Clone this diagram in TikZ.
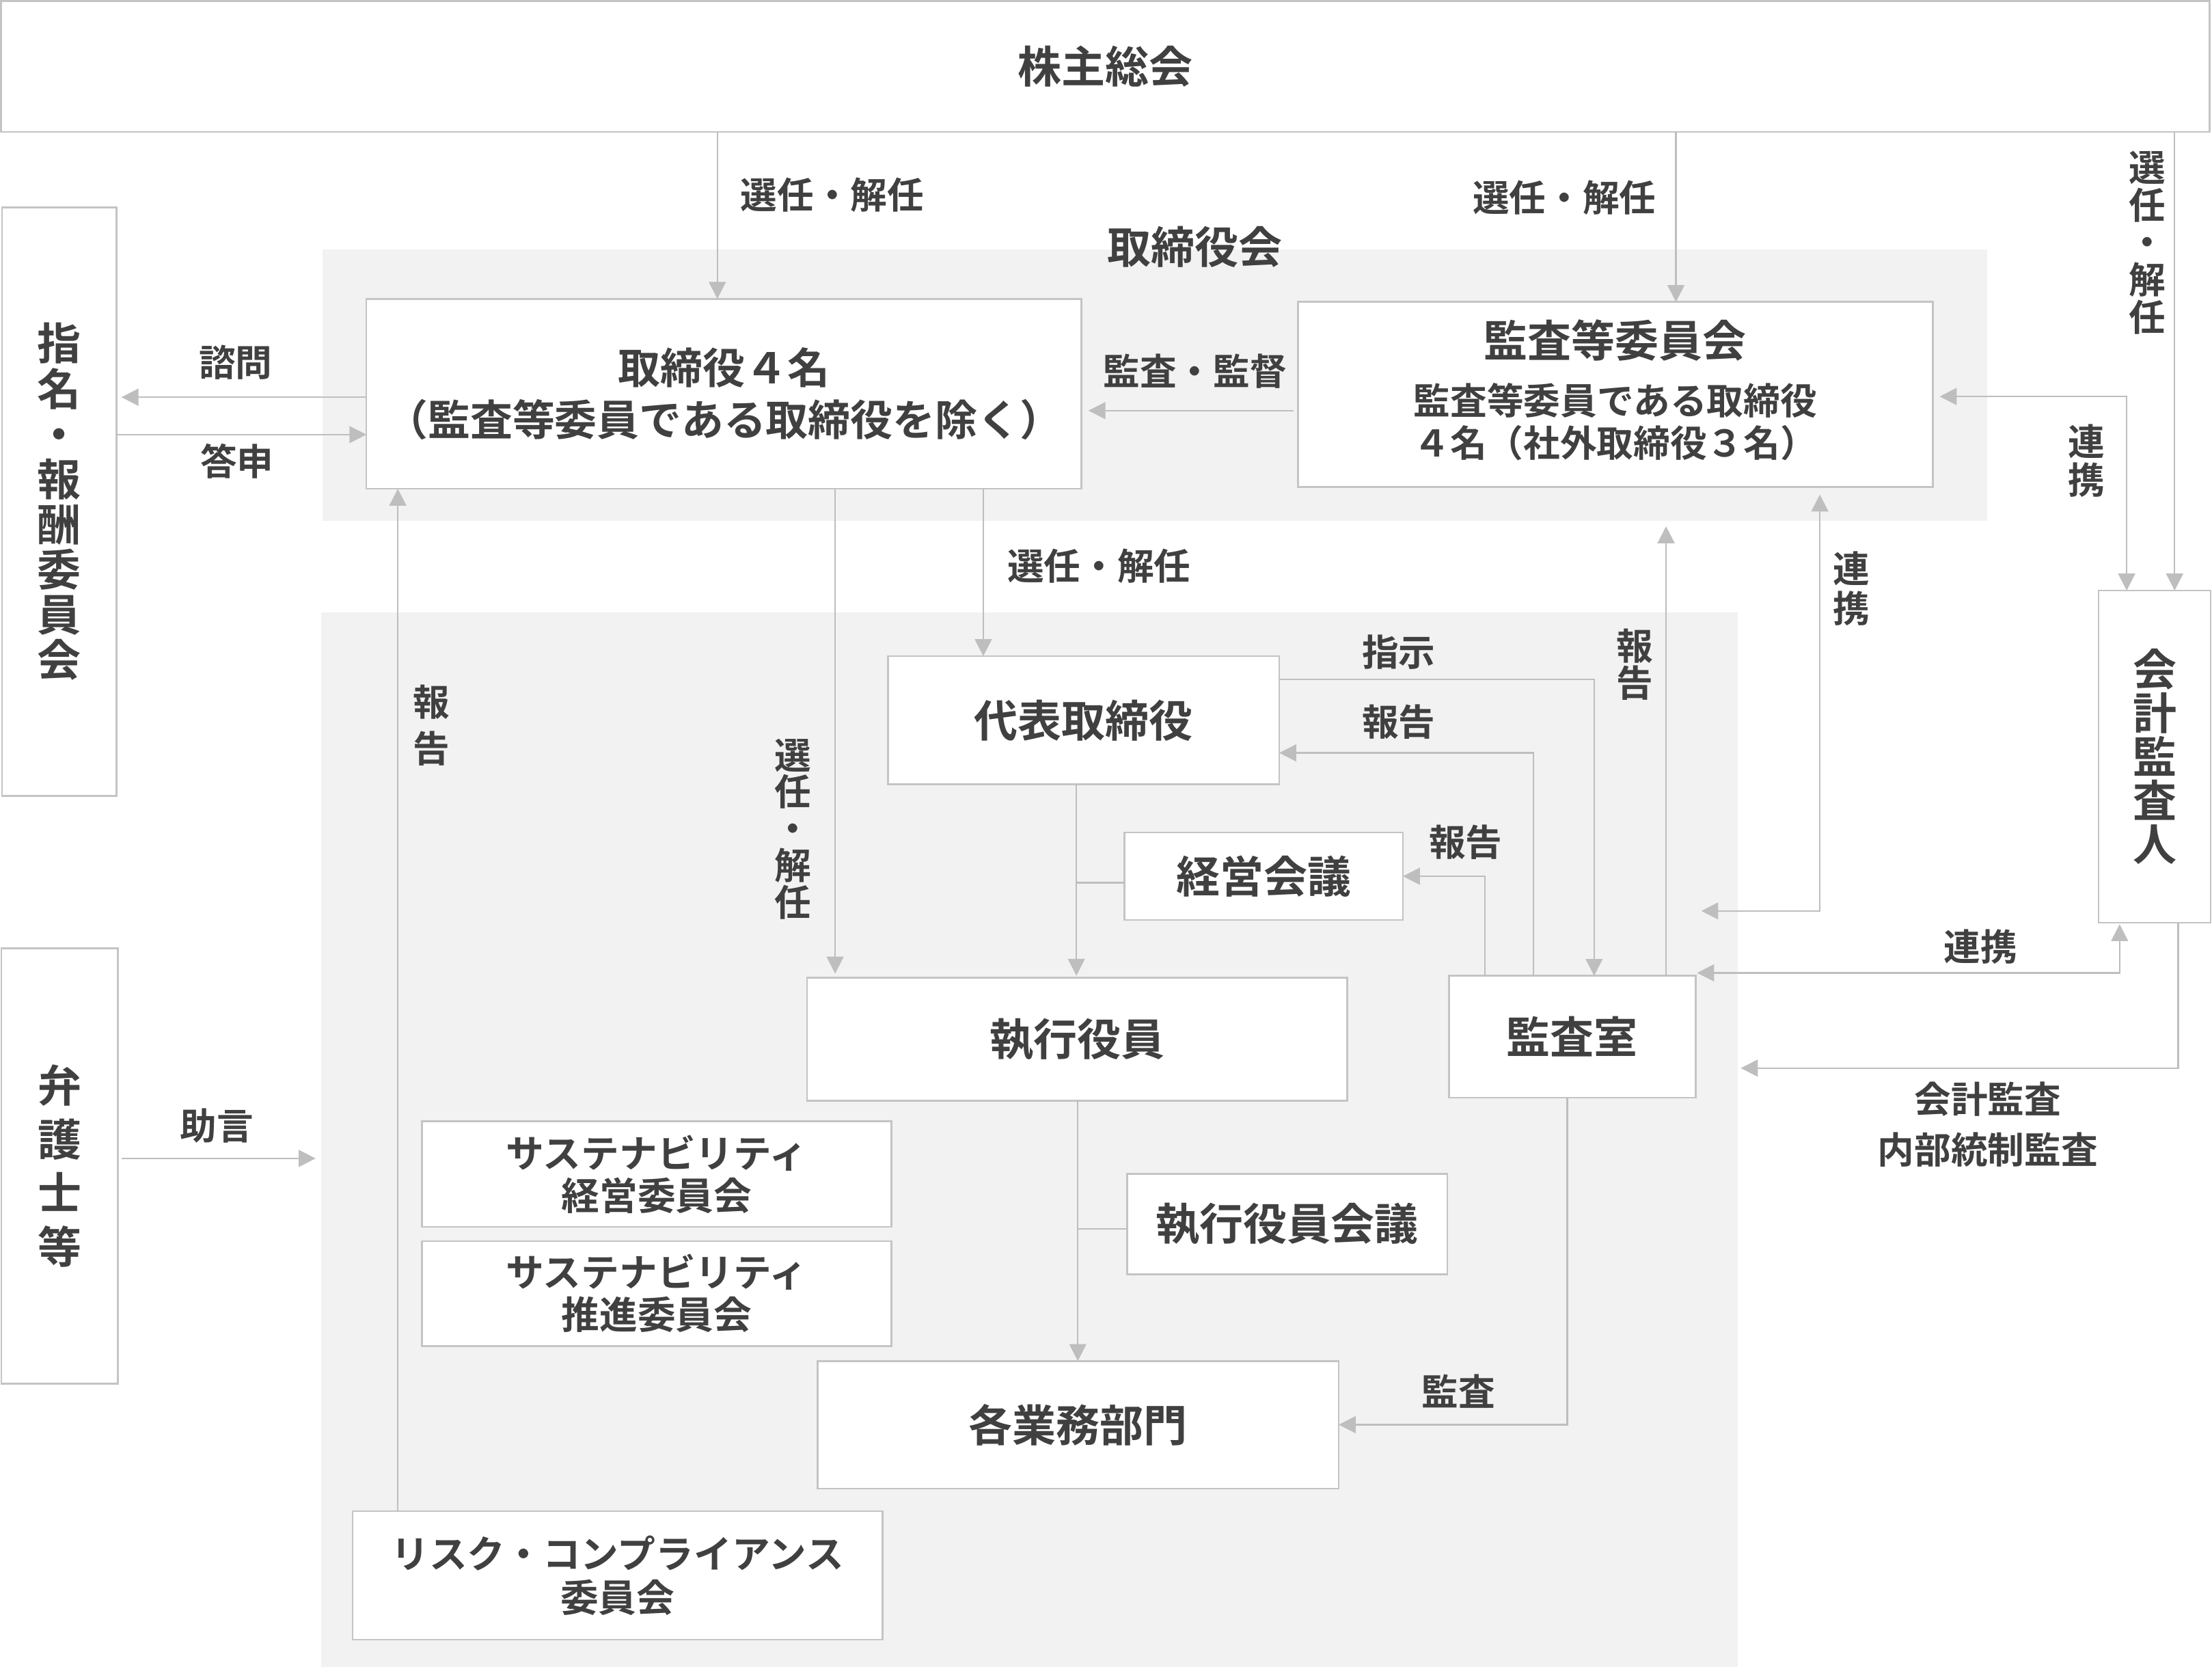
\documentclass[tikz,border=0pt]{standalone}
\usepackage{fontspec}
\setmainfont{Noto Sans CJK JP}[BoldFont={Noto Sans CJK JP Bold}]
\usetikzlibrary{arrows.meta}
\definecolor{lnc}{RGB}{190,190,190}
\definecolor{bdc}{RGB}{196,196,196}
\definecolor{bgc}{RGB}{242,242,242}
\definecolor{txc}{RGB}{64,64,64}
\begin{document}
\begin{tikzpicture}[x=1pt,y=-1pt,
  box/.style={draw=bdc, line width=1.3pt, fill=white, text=txc, inner sep=0pt, outer sep=0pt, align=center, anchor=north west},
  bgbox/.style={fill=bgc, draw=none, inner sep=0pt, outer sep=0pt, anchor=north west},
  big/.style={font=\bfseries\fontsize{31}{37}\selectfont},
  mid/.style={font=\bfseries\fontsize{27}{31}\selectfont},
  lab/.style={text=txc, inner sep=0pt, align=center, font=\bfseries\fontsize{26}{30}\selectfont},
  vlab/.style={text=txc, inner sep=0pt, align=center, font=\bfseries\fontsize{26}{#1}\selectfont},
  con/.style={draw=lnc, line width=1.1pt},
  arr/.style={con, -{Triangle[length=12pt,width=12pt]}},
  arrb/.style={con, {Triangle[length=12pt,width=12pt]}-{Triangle[length=12pt,width=12pt]}},
]
\fill[white] (0,0) rectangle (1568,1181.4);
\useasboundingbox (0,0) rectangle (1568,1181.4);

% backgrounds
\node[bgbox, minimum width=1180pt, minimum height=192pt] (bgA) at (228.7,177) {};
\node[bgbox, minimum width=1004.3pt, minimum height=747.4pt] (bgB) at (227.7,434) {};
\node[lab, font=\bfseries\fontsize{31}{36}\selectfont] (bgAlab) at (847,175) {取締役会};

% boxes
\node[box, big, minimum width=1565.5pt, minimum height=92.8pt] (kabu) at (0.7,0.7) {株主総会};
\node[box, font=\bfseries\fontsize{31}{32}\selectfont, minimum width=81.1pt, minimum height=417pt] (shimei) at (1.5,147) {指\\名\\・\\報\\酬\\委\\員\\会};
\node[box, font=\bfseries\fontsize{31}{38}\selectfont, minimum width=82.6pt, minimum height=308.7pt] (bengo) at (1,672) {弁\\護\\士\\等};
\node[box, font=\bfseries\fontsize{31}{31}\selectfont, minimum width=79.4pt, minimum height=235.5pt] (kaikei) at (1487.6,418.5) {会\\計\\監\\査\\人};
\node[box, font=\bfseries\fontsize{30}{37}\selectfont, minimum width=506.9pt, minimum height=134.6pt] (tori4) at (259.7,211.8) {取締役４名\\（監査等委員である取締役を除く）};
\node[box, minimum width=450pt, minimum height=131pt] (kiin) at (920,214) {};
\node[lab, font=\bfseries\fontsize{31}{36}\selectfont] (kiinT) at (1145,241) {監査等委員会};
\node[lab, font=\bfseries\fontsize{26}{30}\selectfont] (kiinS) at (1145,299) {監査等委員である取締役\\４名（社外取締役３名）};
\node[box, big, minimum width=277.2pt, minimum height=91pt] (daihyo) at (629.6,465) {代表取締役};
\node[box, big, minimum width=197.5pt, minimum height=62pt] (keiei) at (797,590) {経営会議};
\node[box, big, minimum width=383pt, minimum height=87pt] (shikko) at (572,693) {執行役員};
\node[box, big, minimum width=175pt, minimum height=86.4pt] (kansa) at (1027,691.6) {監査室};
\node[box, font=\bfseries\fontsize{27}{30}\selectfont, minimum width=333pt, minimum height=74.8pt] (sus1) at (299,794.7) {サステナビリティ\\経営委員会};
\node[box, font=\bfseries\fontsize{27}{30}\selectfont, minimum width=333pt, minimum height=74.4pt] (sus2) at (299,879.6) {サステナビリティ\\推進委員会};
\node[box, big, minimum width=227pt, minimum height=71pt] (shkaigi) at (799,832) {執行役員会議};
\node[box, big, minimum width=369.5pt, minimum height=90.4pt] (kakubu) at (579.5,964.6) {各業務部門};
\node[box, font=\bfseries\fontsize{27}{31}\selectfont, minimum width=375.5pt, minimum height=91pt] (risk) at (250,1071) {リスク・コンプライアンス\\委員会};

% connectors
\draw[arr] (kabu.south -| 508.5,0) -- (tori4.north -| 508.5,0);
\draw[arr] (kabu.south -| 1188,0) -- (kiin.north -| 1188,0);
\draw[arr] (kabu.south -| 1541.5,0) -- (kaikei.north -| 1541.5,0);
\draw[arr, shorten >=3.5pt] (tori4.west |- 0,281.5) -- (shimei.east |- 0,281.5);
\draw[arr] (shimei.east |- 0,308) -- (tori4.west |- 0,308);
\draw[arr, shorten <=3pt, shorten >=5pt] (kiin.west |- 0,291) -- (tori4.east |- 0,291);
\draw[arrb, shorten <=5pt] (kiin.east |- 0,281) -- (1507.5,281) -- (kaikei.north -| 1507.5,0);
\draw[arr] (tori4.south -| 697,0) -- (daihyo.north -| 697,0);
\draw[arr, shorten >=3pt] (tori4.south -| 592,0) -- (shikko.north -| 592,0);
\draw[arr] (risk.north -| 282,0) -- (tori4.south -| 282,0);
\draw[arr, shorten >=1.5pt] (daihyo.south -| 763,0) -- (shikko.north -| 763,0);
\coordinate (jk) at (763,625.6);
\draw[con] (keiei.west |- jk) -- (jk);
\draw[arr] (shikko.south -| 764,0) -- (kakubu.north -| 764,0);
\coordinate (jx) at (764,871);
\draw[con] (shkaigi.west |- jx) -- (jx);
\draw[arr] (daihyo.east |- 0,481.6) -- (1130,481.6) -- (kansa.north -| 1130,0);
\draw[arr] (kansa.north -| 1087,0) -- (1087,533.6) -- (daihyo.east |- 0,533.6);
\draw[arr] (kansa.north -| 1052.7,0) -- (1052.7,621) -- (keiei.east |- 0,621);
\draw[arr, shorten >=4pt] (kansa.north -| 1181,0) -- (bgA.south -| 1181,0);
\draw[arrb, shorten <=5.5pt, shorten >=4pt] (kiin.south -| 1290,0) -- (1290,645.6) -- (kansa.east |- 0,645.6);
\draw[arrb, shorten <=1pt, shorten >=1pt] (kaikei.south -| 1502.5,0) -- (1502.5,689.5) -- (kansa.east |- 0,689.5);
\draw[arr, shorten >=2pt] (kaikei.south -| 1544,0) -- (1544,757) -- (bgB.east |- 0,757);
\draw[arr] (kansa.south -| 1111,0) -- (1111,1009.7) -- (kakubu.east |- 0,1009.7);
\draw[arr, shorten <=2.4pt, shorten >=4pt] (bengo.east |- 0,821) -- (bgB.west |- 0,821);

% labels
\node[lab] (l1) at (590,138) {選任・解任};
\node[lab] (l2) at (1109,140) {選任・解任};
\node[vlab=26.5] (l3) at (1522,172) {選\\任\\・\\解\\任};
\node[lab] (l4) at (167,257) {諮問};
\node[lab] (l5) at (168,327) {答申};
\node[lab] (l6) at (847,263) {監査・監督};
\node[vlab=27] (l7) at (1479,326.5) {連\\携};
\node[lab] (l8) at (779,401) {選任・解任};
\node[vlab=26] (l9) at (562,587.5) {選\\任\\・\\解\\任};
\node[vlab=33] (l10) at (306,514) {報\\告};
\node[lab] (l11) at (991.5,462) {指示};
\node[lab] (l12) at (991.5,511.5) {報告};
\node[lab] (l13) at (1039,597) {報告};
\node[vlab=26] (l14) at (1159,471) {報\\告};
\node[vlab=28] (l15) at (1312.5,417) {連\\携};
\node[lab] (l16) at (1404,671) {連携};
\node[vlab=35.6] (l17) at (1409,797) {会計監査\\内部統制監査};
\node[lab] (l18) at (1034,986) {監査};
\node[lab] (l19) at (153.7,798) {助言};
\end{tikzpicture}
\end{document}
